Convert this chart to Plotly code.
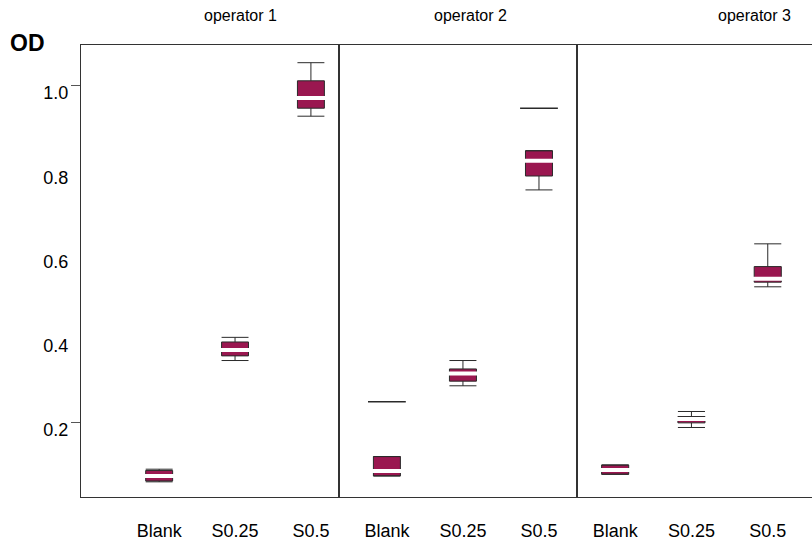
import plotly.graph_objects as go

# ---------------- data ----------------
categories = ["Blank", "S0.25", "S0.5"]
operators = ["operator 1", "operator 2", "operator 3"]

op1_lower = [0.058, 0.346, 0.926]
op1_q1 = [0.060, 0.357, 0.945]
op1_median = [0.072, 0.371, 0.969]
op1_q3 = [0.085, 0.390, 1.010]
op1_upper = [0.088, 0.401, 1.053]

op2_lower = [0.072, 0.286, 0.751]
op2_q1 = [0.072, 0.297, 0.784]
op2_median = [0.084, 0.315, 0.820]
op2_q3 = [0.118, 0.326, 0.844]
op2_upper = [0.118, 0.346, 0.844]
op2_outlier_x = ["Blank", "S0.5"]
op2_outlier_y = [0.248, 0.945]

op3_lower = [0.076, 0.187, 0.521]
op3_q1 = [0.076, 0.198, 0.532]
op3_median = [0.086, 0.207, 0.540]
op3_q3 = [0.098, 0.213, 0.569]
op3_upper = [0.098, 0.225, 0.623]

y_tick_values = [0.2, 0.4, 0.6, 0.8, 1.0]
y_tick_text = ["0.2", "0.4", "0.6", "0.8", "1.0"]
y_tick_marks = [0.2, 1.0]

# ---------------- style ----------------
PURPLE = "#9A1750"
EDGE = "#2a2a2a"
FRAME = "#333333"
FONT = "Liberation Sans, Arial, sans-serif"

W, H = 812, 541
L, R, T, B = 81, 0, 45, 44
PW = W - L - R
PH = H - T - B
edges_px = [81, 339, 577, 812]
domains = [[(edges_px[i] - L) / PW, (edges_px[i + 1] - L) / PW] for i in range(3)]
x_ranges = [[-1.03, 2.37], [-0.63, 2.5], [-0.5, 2.58]]
y_range = [0.022, 1.095]

fig = go.Figure()

stats = [
    (op1_lower, op1_q1, op1_median, op1_q3, op1_upper),
    (op2_lower, op2_q1, op2_median, op2_q3, op2_upper),
    (op3_lower, op3_q1, op3_median, op3_q3, op3_upper),
]

for i, (lo, q1, med, q3, up) in enumerate(stats):
    xa = "x" if i == 0 else f"x{i+1}"
    ya = "y" if i == 0 else f"y{i+1}"
    fig.add_trace(go.Box(
        x=categories, q1=q1, median=med, q3=q3, lowerfence=lo, upperfence=up,
        fillcolor=PURPLE, line=dict(color=EDGE, width=1), whiskerwidth=1,
        width=0.355, boxpoints=False, showlegend=False, xaxis=xa, yaxis=ya,
        hoverinfo="y",
    ))
    fig.add_trace(go.Scatter(
        x=categories, y=med, mode="markers", showlegend=False,
        marker=dict(symbol="line-ew", size=24, color="white",
                    line=dict(color="white", width=4)),
        xaxis=xa, yaxis=ya, hoverinfo="skip",
    ))

fig.add_trace(go.Scatter(
    x=op2_outlier_x, y=op2_outlier_y, mode="markers", showlegend=False,
    marker=dict(symbol="line-ew", size=27, color=EDGE, line=dict(color=EDGE, width=1.5)),
    xaxis="x2", yaxis="y2",
))

# dummy trace to carry the tick-mark axis
fig.add_trace(go.Scatter(x=[None], y=[None], xaxis="x", yaxis="y4",
                         showlegend=False, hoverinfo="skip"))

layout = dict(
    width=W, height=H,
    margin=dict(l=L, r=R, t=T, b=B),
    paper_bgcolor="white", plot_bgcolor="white",
    font=dict(family=FONT, size=18, color="black"),
    showlegend=False,
)

for i in range(3):
    key = "xaxis" if i == 0 else f"xaxis{i+1}"
    layout[key] = dict(
        domain=domains[i], type="category", categoryorder="array",
        categoryarray=categories, range=x_ranges[i],
        anchor="y" if i == 0 else f"y{i+1}",
        showline=True, mirror=True, linecolor=FRAME, linewidth=1,
        ticks="", showgrid=False, zeroline=False,
        tickfont=dict(family=FONT, size=18, color="black"),
        ticklabelstandoff=17, automargin=False,
    )
    ykey = "yaxis" if i == 0 else f"yaxis{i+1}"
    ycfg = dict(
        range=y_range, anchor="x" if i == 0 else f"x{i+1}",
        showgrid=False, zeroline=False, ticks="",
        showline=True, linecolor=FRAME, linewidth=1,
        mirror=(i < 2), automargin=False,
    )
    if i == 0:
        ycfg.update(tickmode="array", tickvals=y_tick_values, ticktext=y_tick_text,
                    tickfont=dict(family=FONT, size=18, color="black"),
                    ticklabelstandoff=8, ticklabelshift=8)
    else:
        ycfg.update(showticklabels=False, matches="y")
    layout[ykey] = ycfg

layout["yaxis4"] = dict(
    overlaying="y", anchor="x", side="left", range=y_range,
    tickmode="array", tickvals=y_tick_marks, ticks="outside", ticklen=9,
    tickcolor="#555555", tickwidth=1, showticklabels=False,
    showgrid=False, zeroline=False, showline=False, automargin=False,
)

title_px = [240, 470, 754]
annotations = []
for name, px in zip(operators, title_px):
    annotations.append(dict(
        text=name, xref="paper", yref="paper",
        x=(px - L) / PW, y=1 + (T - 15) / PH,
        xanchor="center", yanchor="middle", showarrow=False,
        font=dict(family=FONT, size=16, color="black"),
    ))
annotations.append(dict(
    text="<b>OD</b>", xref="paper", yref="paper",
    x=(27 - L) / PW, y=1 + (T - 43) / PH, xanchor="center", yanchor="middle",
    showarrow=False, font=dict(family=FONT, size=23, color="black"),
))
layout["annotations"] = annotations

fig.update_layout(**layout)
fig.write_html(
    "out.html",
    config={"displayModeBar": False},
    post_script="document.body.style.margin='0px';document.body.style.overflow='hidden';",
)
